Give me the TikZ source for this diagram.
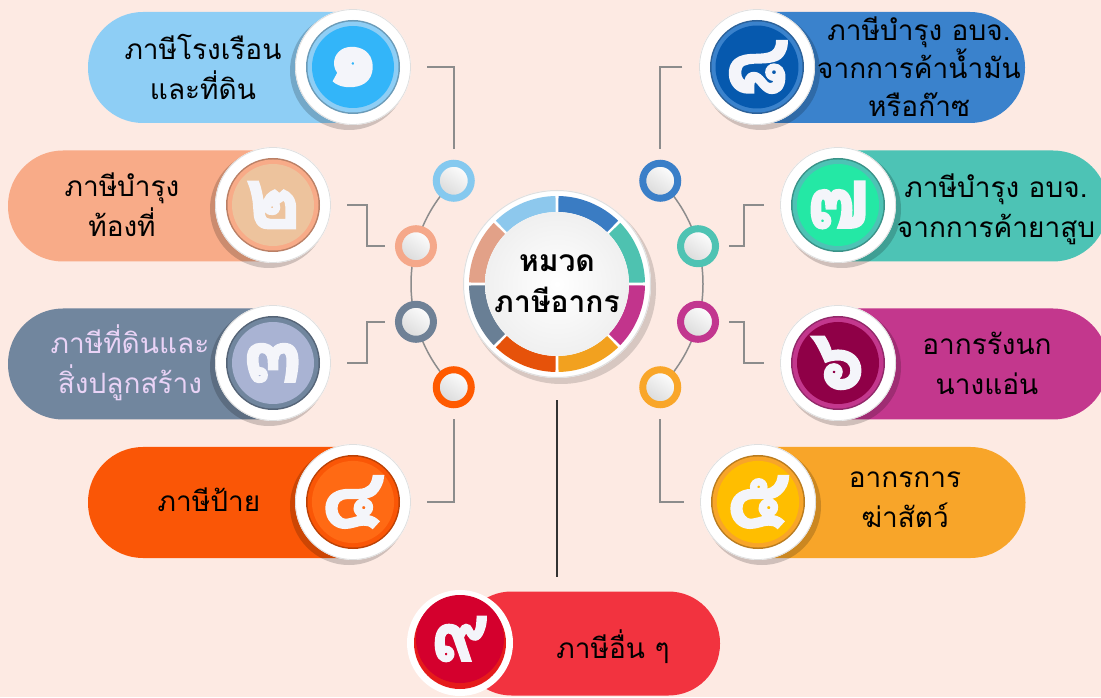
\documentclass[tikz,border=0pt]{standalone}
\usepackage{fontspec}
\newfontfamily\thaifont[Script=Thai]{Loma}
\newfontfamily\digitfont[Script=Thai, FakeBold=2.5]{Loma}
\usetikzlibrary{calc}

\definecolor{bgpink}{HTML}{FDEAE3}
\definecolor{linkgray}{HTML}{8C8C8C}
\definecolor{digitwhite}{HTML}{F4F5FA}
\definecolor{textC}{HTML}{E9D3F6}
\definecolor{pillA}{HTML}{8ECEF5}\definecolor{diskA}{HTML}{33B5F9}
\definecolor{pillB}{HTML}{F8AB88}\definecolor{diskB}{HTML}{EDC39D}
\definecolor{pillC}{HTML}{71869E}\definecolor{diskC}{HTML}{A9B3D3}
\definecolor{pillD}{HTML}{FA5606}\definecolor{diskD}{HTML}{FF6A14}
\definecolor{pillE}{HTML}{F8A529}\definecolor{diskE}{HTML}{FFBE00}
\definecolor{pillF}{HTML}{C3378D}\definecolor{diskF}{HTML}{8F0047}
\definecolor{pillG}{HTML}{4DC3B5}\definecolor{diskG}{HTML}{24E8A5}
\definecolor{pillH}{HTML}{3A82CC}\definecolor{diskH}{HTML}{0659AE}
\definecolor{pillI}{HTML}{F2333F}\definecolor{diskI}{HTML}{D4002D}
\definecolor{rimI}{HTML}{E51B1B}
\definecolor{segA}{HTML}{8DC8ED}\definecolor{segB}{HTML}{E2A188}
\definecolor{segC}{HTML}{697F95}\definecolor{segD}{HTML}{E6520A}
\definecolor{segE}{HTML}{F2A11F}\definecolor{segF}{HTML}{C2348C}
\definecolor{segG}{HTML}{4EC2B0}\definecolor{segH}{HTML}{3A7CC3}
\definecolor{rimA}{HTML}{85C9EF}\definecolor{rimB}{HTML}{F5A88A}
\definecolor{rimC}{HTML}{6F8196}\definecolor{rimD}{HTML}{FF5A00}
\definecolor{rimE}{HTML}{F9A629}\definecolor{rimF}{HTML}{C2368F}
\definecolor{rimG}{HTML}{4EC3B3}\definecolor{rimH}{HTML}{3A7FC8}

\pgfdeclarelayer{back}
\pgfdeclarelayer{links}
\pgfsetlayers{back,links,main}

\tikzset{
    pill/.style={rectangle, rounded corners=55pt, minimum height=111pt, inner sep=0pt},
    pilltext/.style={font=\thaifont\fontsize{28}{40}\selectfont, align=center, text=black},
    digit/.style={circle, minimum size=82pt, inner sep=0pt, text=digitwhite,
        font=\digitfont\bfseries\fontsize{84}{84}\selectfont},
    bubble/.style={circle, minimum size=35pt, inner sep=0pt, draw=#1, line width=7pt,
        top color=white, bottom color=gray!30, shading angle=-35},
    elbow/.style={draw=linkgray, line width=1.5pt},
    stem/.style={draw=black!80, line width=1.2pt},
    hubdisk/.style={circle, minimum size=144pt, inner sep=0pt, inner color=white, outer color=gray!12,
        font=\thaifont\bfseries\fontsize{30}{41}\selectfont, align=center},
}

\newcommand{\ringseg}[3]{%
    \fill[#1] ($(o)+(#2:72pt)$) arc[start angle=#2, end angle=#3, radius=72pt]
        -- ($(o)+(#3:88pt)$) arc[start angle=#3, end angle=#2, radius=88pt] -- cycle;}
\newcommand{\numbadge}[6]{%
    \fill[black, opacity=.18] ($(#2)+(#6,-4)$) circle (59pt);
    \fill[white] (#2) circle (58pt);
    \draw[gray!25, line width=.8pt] (#2) circle (57.5pt);
    \fill[#3!75!black] (#2) circle (47pt);
    \fill[#3] (#2) circle (45.5pt);
    \node[digit, fill=#4] (#1) at (#2) {#5};}

\begin{document}
\begin{tikzpicture}[x=1pt, y=1pt]
    \useasboundingbox (0,0) rectangle (1101,697);
    \begin{pgfonlayer}{back}
        \fill[bgpink] (0,0) rectangle (1101,697);
    \end{pgfonlayer}

    \coordinate (o) at (557,413);
    \fill[black, opacity=.15] ($(o)+(4,-5)$) circle (95pt);
    \fill[white] (o) circle (94pt);
    \draw[gray!25, line width=1pt] (o) circle (93.5pt);
    \ringseg{segA}{91}{134}
    \ringseg{segB}{136}{179}
    \ringseg{segC}{181}{224}
    \ringseg{segD}{226}{269}
    \ringseg{segE}{271}{314}
    \ringseg{segF}{316}{359}
    \ringseg{segG}{1}{44}
    \ringseg{segH}{46}{89}
    \node[hubdisk] (hub) at (o) {หมวด\\ภาษีอากร};

    \node[bubble=rimA] (b1) at ($(o)+(135:146pt)$) {};
    \node[bubble=rimB] (b2) at ($(o)+(165:146pt)$) {};
    \node[bubble=rimC] (b3) at ($(o)+(195:146pt)$) {};
    \node[bubble=rimD] (b4) at ($(o)+(225:146pt)$) {};
    \node[bubble=rimH] (b8) at ($(o)+(45:146pt)$) {};
    \node[bubble=rimG] (b7) at ($(o)+(15:146pt)$) {};
    \node[bubble=rimF] (b6) at ($(o)+(-15:146pt)$) {};
    \node[bubble=rimE] (b5) at ($(o)+(-45:146pt)$) {};

    \node[pill, fill=pillA, minimum width=305pt] (p1) at (240.5,629.5) {};
    \node[pill, fill=pillB, minimum width=305pt] (p2) at (160.5,491) {};
    \node[pill, fill=pillC, minimum width=305pt] (p3) at (160.5,333) {};
    \node[pill, fill=pillD, minimum width=305pt] (p4) at (240.5,194.5) {};
    \node[pill, fill=pillH, minimum width=308pt] (p8) at (871,629.5) {};
    \node[pill, fill=pillG, minimum width=310pt] (p7) at (953,491) {};
    \node[pill, fill=pillF, minimum width=310pt] (p6) at (953,333) {};
    \node[pill, fill=pillE, minimum width=308pt] (p5) at (871.5,194.5) {};
    \node[pill, fill=pillI, minimum width=260pt, minimum height=104pt, rounded corners=51.5pt] (p9) at (590,53.5) {};

    \numbadge{n1}{353,630}{pillA}{diskA}{๑}{-4}
    \numbadge{n2}{273,492}{pillB}{diskB}{๒}{-4}
    \numbadge{n3}{273,334}{pillC}{diskC}{๓}{-4}
    \numbadge{n4}{353,195}{pillD}{diskD}{๔}{-4}
    \numbadge{n8}{757,630}{pillH}{diskH}{๘}{4}
    \numbadge{n7}{838,492}{pillG}{diskG}{๗}{4}
    \numbadge{n6}{838,334}{pillF}{diskF}{๖}{4}
    \numbadge{n5}{758,195}{pillE}{diskE}{๕}{4}
    \fill[white] (460,54) circle (53pt);
    \fill[rimI] (460,54) circle (46pt);
    \node[digit, fill=diskI, minimum size=88pt, font=\digitfont\bfseries\fontsize{80}{80}\selectfont] (n9) at (460,58) {๙};

    \node[pilltext] (t1) at (203,630) {ภาษีโรงเรือน\\และที่ดิน};
    \node[pilltext] (t2) at (122,492) {ภาษีบำรุง\\ท้องที่};
    \node[pilltext, text=textC] (t3) at (130,334) {ภาษีที่ดินและ\\สิ่งปลูกสร้าง};
    \node[pilltext] (t4) at (209,197) {ภาษีป้าย};
    \node[pilltext, font=\thaifont\fontsize{28}{38}\selectfont] (t8) at (919,630) {ภาษีบำรุง อบจ.\\จากการค้าน้ำมัน\\หรือก๊าซ};
    \node[pilltext] (t7) at (996,488) {ภาษีบำรุง อบจ.\\จากการค้ายาสูบ};
    \node[pilltext] (t6) at (987,334) {อากรรังนก\\นางแอ่น};
    \node[pilltext] (t5) at (905,197) {อากรการ\\ฆ่าสัตว์};
    \node[pilltext] (t9) at (613,50) {ภาษีอื่น ๆ};

    \begin{pgfonlayer}{links}
        \draw[elbow] (b1) arc[start angle=135, end angle=225, radius=146pt];
        \draw[elbow] (b8) arc[start angle=45, end angle=-45, radius=146pt];
    \end{pgfonlayer}
    \draw[elbow] ([xshift=33pt]n1.east) -| ([yshift=11pt]b1.north);
    \draw[elbow] ([xshift=33pt]n2.east) -- ++(20pt,0) |- ([xshift=-10pt]b2.west);
    \draw[elbow] ([xshift=33pt]n3.east) -- ++(20pt,0) |- ([xshift=-10pt]b3.west);
    \draw[elbow] ([xshift=33pt]n4.east) -| ([yshift=-11pt]b4.south);
    \draw[elbow] ([xshift=-33pt]n8.west) -| ([yshift=11pt]b8.north);
    \draw[elbow] ([xshift=-33pt]n7.west) -- ++(-20pt,0) |- ([xshift=10pt]b7.east);
    \draw[elbow] ([xshift=-33pt]n6.west) -- ++(-20pt,0) |- ([xshift=10pt]b6.east);
    \draw[elbow] ([xshift=-33pt]n5.west) -| ([yshift=-11pt]b5.south);
    \draw[stem] ([yshift=-44pt]hub.south) -- ($(hub.south |- p9.north)+(0,14pt)$);
\end{tikzpicture}
\end{document}
